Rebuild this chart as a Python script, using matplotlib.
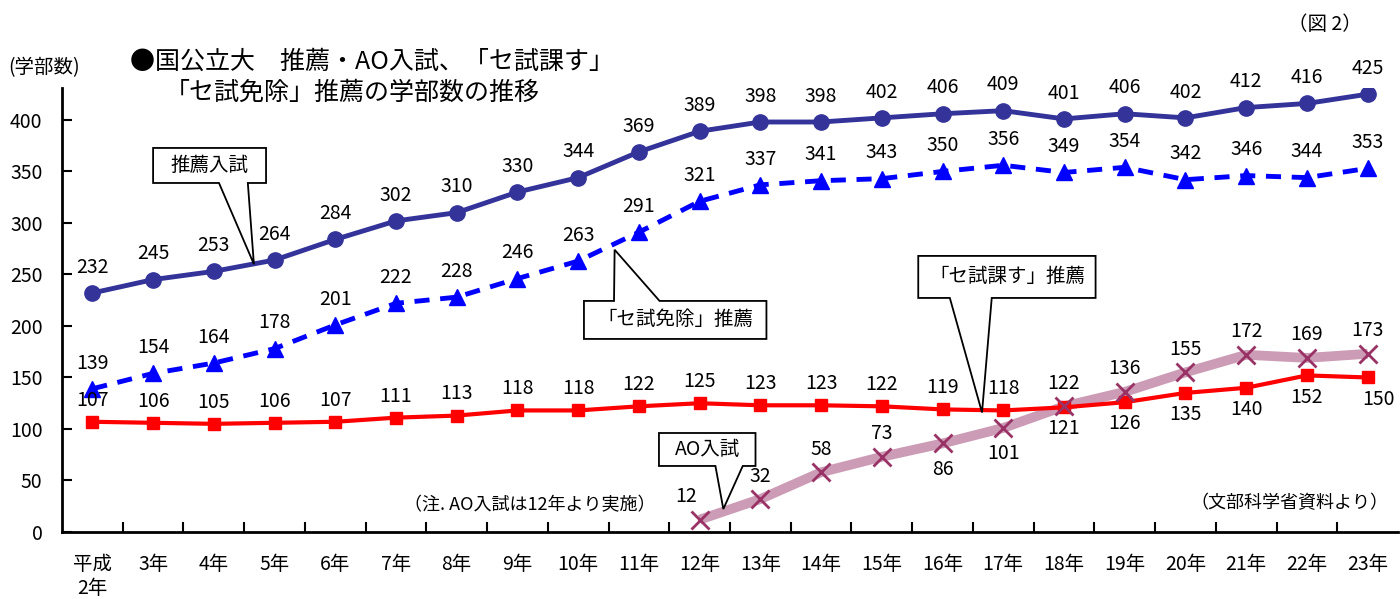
import matplotlib
matplotlib.use('Agg')
import matplotlib.pyplot as plt
from matplotlib.patches import Polygon

plt.rcParams['font.family'] = ['Noto Sans CJK JP', 'DejaVu Sans']

# 年度
nendo = ['平成\n2年', '3年', '4年', '5年', '6年', '7年', '8年', '9年', '10年', '11年', '12年',
         '13年', '14年', '15年', '16年', '17年', '18年', '19年', '20年', '21年', '22年', '23年']

# 学部数
suisen = [232, 245, 253, 264, 284, 302, 310, 330, 344, 369, 389,
          398, 398, 402, 406, 409, 401, 406, 402, 412, 416, 425]
menjo = [139, 154, 164, 178, 201, 222, 228, 246, 263, 291, 321,
         337, 341, 343, 350, 356, 349, 354, 342, 346, 344, 353]
kasu = [107, 106, 105, 106, 107, 111, 113, 118, 118, 122, 125,
        123, 123, 122, 119, 118, 121, 126, 135, 140, 152, 150]
ao = [12, 32, 58, 73, 86, 101, 122, 136, 155, 172, 169, 173]
ao_start = 10  # 12年から

x = list(range(len(nendo)))
x_ao = x[ao_start:]

fig = plt.figure(figsize=(14, 5.99), dpi=100)
ax = fig.add_axes([62 / 1400, 67 / 599, 1336 / 1400, 444 / 599])

ax.plot(x_ao, ao, color='#cc9bb5', lw=7, solid_capstyle='butt', zorder=2)
ax.plot(x_ao, ao, ls='none', marker='x', ms=13, mew=2, color='#993366', zorder=5)
ax.plot(x, kasu, color='#ff0000', lw=3, marker='s', ms=9, zorder=4)
ax.plot(x, menjo, color='#0000ff', lw=3.5, ls=(0, (3.1, 2.2)), marker='^', ms=11, zorder=3)
ax.plot(x, suisen, color='#333399', lw=3.5, marker='o', ms=11, zorder=3)

fs = 14
for i, v in enumerate(suisen):
    ax.annotate(str(v), (i, v), xytext=(0, 11), textcoords='offset points',
                ha='center', va='bottom', fontsize=fs)
for i, v in enumerate(menjo):
    ax.annotate(str(v), (i, v), xytext=(0, 11), textcoords='offset points',
                ha='center', va='bottom', fontsize=fs)
for i, v in enumerate(kasu):
    if i < 16:
        ax.annotate(str(v), (i, v), xytext=(0, 8), textcoords='offset points',
                    ha='center', va='bottom', fontsize=fs)
    else:
        dx = 8 if i == len(kasu) - 1 else 0
        ax.annotate(str(v), (i, v), xytext=(dx, -8), textcoords='offset points',
                    ha='center', va='top', fontsize=fs)
for i, v in zip(x_ao, ao):
    if i in (14, 15):
        ax.annotate(str(v), (i, v), xytext=(0, -11), textcoords='offset points',
                    ha='center', va='top', fontsize=fs)
    else:
        dx = -10 if i == ao_start else 0
        ax.annotate(str(v), (i, v), xytext=(dx, 9), textcoords='offset points',
                    ha='center', va='bottom', fontsize=fs)

ax.set_xlim(-0.5, 21.5)
ax.set_ylim(0, 431)
ax.set_yticks(range(0, 401, 50))
ax.set_xticks([i + 0.5 for i in range(21)])
ax.set_xticklabels([])
ax.tick_params(axis='both', direction='in', length=7, width=1.5, labelsize=fs)
ax.tick_params(axis='y', pad=14)
for i, lab in enumerate(nendo):
    ax.text(i, -21, lab, ha='center', va='top', fontsize=fs, linespacing=1.2)
for s in ['top', 'right']:
    ax.spines[s].set_visible(False)
ax.spines['left'].set_linewidth(2)
ax.spines['bottom'].set_linewidth(2)


# 吹き出し (枠 x0-x1, y0-y1, しっぽの付け根 xa-xb, 先端 tip)
def fukidashi(label, x0, x1, y0, y1, xa, xb, tip, ue=False):
    if ue:
        pts = [(x0, y0), (x1, y0), (x1, y1), (xb, y1), tip, (xa, y1), (x0, y1)]
    else:
        pts = [(x0, y1), (x0, y0), (xa, y0), tip, (xb, y0), (x1, y0), (x1, y1)]
    ax.add_patch(Polygon(pts, closed=True, fc='white', ec='black', lw=1.3, zorder=6))
    ax.text((x0 + x1) / 2, (y0 + y1) / 2, label, ha='center', va='center',
            fontsize=fs, zorder=7)


fukidashi('推薦入試', 1.00, 2.86, 338.8, 372.8, 2.085, 2.56, (2.66, 260))
fukidashi('「セ試免除」推薦', 8.095, 11.10, 187.4, 224.3, 8.59, 9.34, (8.6, 274), ue=True)
fukidashi('「セ試課す」推薦', 13.60, 16.52, 227.2, 268.0, 14.12, 14.81, (14.65, 116))
fukidashi('AO入試', 9.33, 10.92, 64.1, 96.1, 10.26, 10.71, (10.39, 22.3))

ax.text(7.2, 26, '（注. AO入試は12年より実施）', ha='center', va='center', fontsize=13)
ax.text(21.35, 28, '（文部科学省資料より）', ha='right', va='center', fontsize=13)

fig.text(130 / 1400, 1 - 62 / 599, '●国公立大　推薦・AO入試、「セ試課す」',
         ha='left', va='center', fontsize=18)
fig.text(165 / 1400, 1 - 93 / 599, '「セ試免除」推薦の学部数の推移',
         ha='left', va='center', fontsize=18)
fig.text(8 / 1400, 1 - 68 / 599, '(学部数)', ha='left', va='center', fontsize=14)
fig.text(1362 / 1400, 1 - 25 / 599, '（図 2）', ha='right', va='center', fontsize=14)

fig.savefig('out.png', dpi=100)
